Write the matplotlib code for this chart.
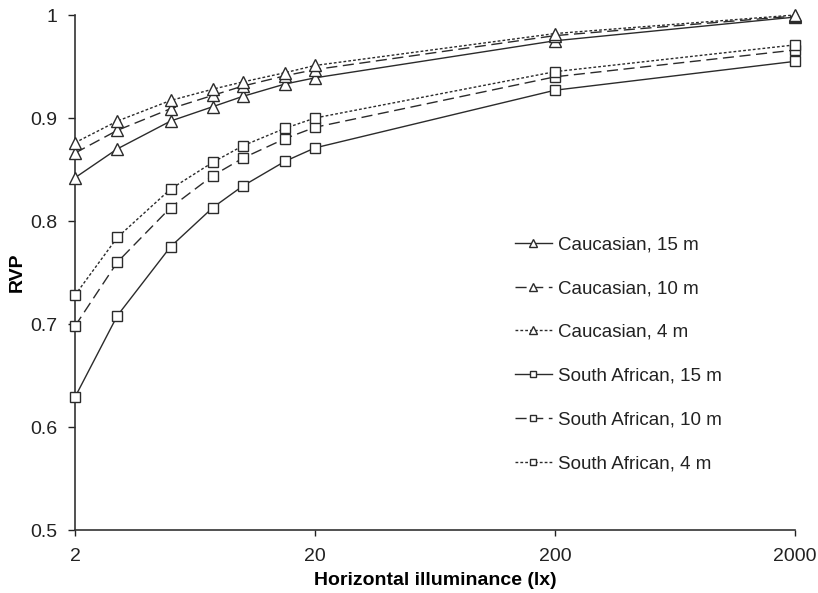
# RVP against horizontal illuminance, two skin groups at three distances
import matplotlib.pyplot as plt
from matplotlib.ticker import FixedLocator, NullLocator

illum = [2, 3, 5, 7.5, 10, 15, 20, 200, 2000]

cauc_15 = [0.842, 0.870, 0.897, 0.911, 0.921, 0.933, 0.939, 0.975, 0.998]
cauc_10 = [0.866, 0.888, 0.909, 0.922, 0.931, 0.941, 0.947, 0.980, 0.999]
cauc_4 = [0.876, 0.897, 0.917, 0.928, 0.935, 0.944, 0.951, 0.982, 1.000]
sa_15 = [0.629, 0.708, 0.775, 0.813, 0.834, 0.858, 0.871, 0.927, 0.955]
sa_10 = [0.698, 0.760, 0.813, 0.844, 0.861, 0.880, 0.891, 0.940, 0.966]
sa_4 = [0.728, 0.784, 0.831, 0.857, 0.873, 0.890, 0.900, 0.945, 0.971]

labels = ['Caucasian, 15 m', 'Caucasian, 10 m', 'Caucasian, 4 m',
          'South African, 15 m', 'South African, 10 m', 'South African, 4 m']
x_ticks = [2, 20, 200, 2000]
y_ticks = [0.5, 0.6, 0.7, 0.8, 0.9, 1.0]

plt.rcParams['font.family'] = ['Liberation Sans', 'DejaVu Sans']

fig = plt.figure(figsize=(8.18, 5.93), dpi=100)
ax = fig.add_axes([0.0917, 0.1062, 0.8803, 0.8685])

col = '#2b2b2b'
styles = ['-', (0, (8, 4)), (0, (2, 1.5))]
series = [cauc_15, cauc_10, cauc_4, sa_15, sa_10, sa_4]
for i, (ys, lab) in enumerate(zip(series, labels)):
    mk = '^' if i < 3 else 's'
    ms = 8 if i < 3 else 6.5
    ax.plot(illum, ys, color=col, lw=1.0, linestyle=styles[i % 3],
            marker=mk, markersize=ms, markerfacecolor='white',
            markeredgecolor=col, markeredgewidth=1.0, label=lab,
            clip_on=False, zorder=3)

ax.set_xscale('log')
ax.set_xlim(2, 2000)
ax.set_ylim(0.5, 1.0)
ax.xaxis.set_major_locator(FixedLocator(x_ticks))
ax.xaxis.set_minor_locator(NullLocator())
ax.set_xticklabels([str(t) for t in x_ticks])
ax.set_yticks(y_ticks)
ax.set_yticklabels(['0.5', '0.6', '0.7', '0.8', '0.9', '1'])
ax.tick_params(axis='y', labelsize=14, colors='#222222', length=5,
               direction='out', width=1, pad=8)
ax.tick_params(axis='x', labelsize=14, colors='#222222', length=4,
               direction='out', width=1, pad=9)
for s in ['top', 'right']:
    ax.spines[s].set_visible(False)
for s in ['left', 'bottom']:
    ax.spines[s].set_color('#333333')
    ax.spines[s].set_linewidth(1.2)

ax.set_ylabel('RVP', fontsize=14, fontweight='bold')
ax.yaxis.set_label_coords(-0.068, 0.5)
ax.set_xlabel('Horizontal illuminance (lx)', fontsize=14, fontweight='bold',
              labelpad=5)

leg = ax.legend(loc='upper left', bbox_to_anchor=(0.587, 0.603),
                frameon=False, fontsize=13.5, handlelength=2.0,
                handletextpad=0.3, labelspacing=1.42, markerscale=0.75)
for t in leg.get_texts():
    t.set_color('#222222')

fig.savefig('out.png', dpi=100)
